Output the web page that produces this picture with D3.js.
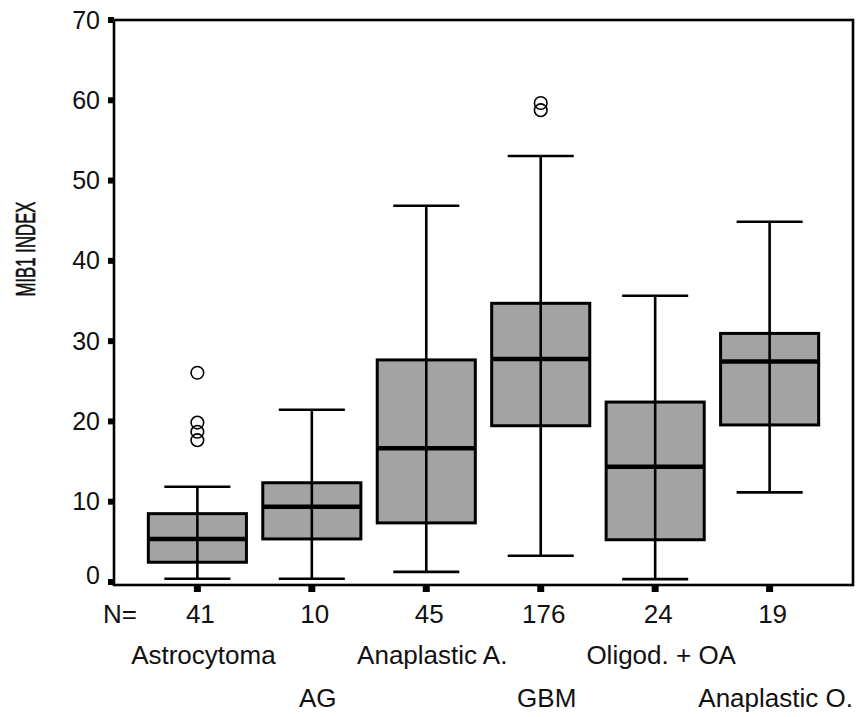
<!DOCTYPE html>
<html>
<head>
<meta charset="utf-8">
<script src="https://cdn.jsdelivr.net/npm/d3@7/dist/d3.min.js"></script>
<style>
  html, body { margin: 0; padding: 0; background: #fff; }
  svg { display: block; font-family: "Liberation Sans", Arial, Helvetica, sans-serif; }
</style>
</head>
<body>
<svg id="chart" width="859" height="717"></svg>
<script>
// Tumour groups, their sample counts and MIB1 index box-plot summaries
const categories = ["Astrocytoma", "AG", "Anaplastic A.", "GBM", "Oligod. + OA", "Anaplastic O."];
const counts     = [41, 10, 45, 176, 24, 19];
const whiskerLow = [0.35, 0.35, 1.2, 3.2, 0.3, 11.1];
const q1         = [2.4, 5.3, 7.3, 19.4, 5.2, 19.5];
const medians    = [5.3, 9.3, 16.6, 27.7, 14.3, 27.4];
const q3         = [8.45, 12.3, 27.6, 34.65, 22.35, 30.9];
const whiskerHigh= [11.8, 21.4, 46.8, 53.0, 35.6, 44.8];
const outliers   = [[26.0, 19.8, 18.65, 17.6], [], [], [59.6, 58.7], [], []];
const yTicks     = [0, 10, 20, 30, 40, 50, 60, 70];

const svg = d3.select("#chart");
const plotLeft = 114, plotRight = 853, plotTop = 20, plotBottom = 585;

const x = d3.scaleBand()
  .domain(categories)
  .range([plotLeft, plotRight])
  .paddingInner(0.143)
  .paddingOuter(0.3);

const y = d3.scaleLinear().domain([0, 70]).range([581.5, 19.5]);

const cx = c => x(c) + x.bandwidth() / 2;
const capW = x.step() * 0.577;

// Plot frame
svg.append("rect")
  .attr("x", plotLeft).attr("y", plotTop)
  .attr("width", plotRight - plotLeft).attr("height", plotBottom - plotTop)
  .attr("fill", "none").attr("stroke", "#000").attr("stroke-width", 2.6);

// Y axis: square tick marks and labels
const yAxis = svg.append("g")
  .attr("transform", `translate(${plotLeft},0)`)
  .call(d3.axisLeft(y).tickValues(yTicks).tickSize(6).tickPadding(8));
yAxis.select(".domain").remove();
yAxis.selectAll(".tick line").attr("stroke", "#000").attr("stroke-width", 6);
yAxis.selectAll(".tick text")
  .attr("font-size", 25)
  .attr("font-family", "Liberation Sans, Arial, sans-serif")
  .attr("fill", "#111")
  .attr("dy", d => d === 0 ? "0.06em" : "0.34em");

// X axis: square tick marks under each group
const xAxis = svg.append("g")
  .attr("transform", `translate(0,${plotBottom})`)
  .call(d3.axisBottom(x).tickSize(7).tickFormat(""));
xAxis.select(".domain").remove();
xAxis.selectAll(".tick line").attr("stroke", "#000").attr("stroke-width", 7);

// Box plots
const data = categories.map((c, i) => ({
  c, lo: whiskerLow[i], q1: q1[i], med: medians[i], q3: q3[i], hi: whiskerHigh[i], out: outliers[i]
}));

const g = svg.append("g");
const box = g.selectAll("g.box").data(data).join("g").attr("class", "box");

// whisker stems
box.append("line")
  .attr("x1", d => cx(d.c)).attr("x2", d => cx(d.c))
  .attr("y1", d => y(d.lo)).attr("y2", d => y(d.hi))
  .attr("stroke", "#000").attr("stroke-width", 2.6);

// boxes
box.append("rect")
  .attr("x", d => x(d.c)).attr("width", x.bandwidth())
  .attr("y", d => y(d.q3)).attr("height", d => y(d.q1) - y(d.q3))
  .attr("fill", "#a3a3a3").attr("stroke", "#000").attr("stroke-width", 3);

// stem through the box
box.append("line")
  .attr("x1", d => cx(d.c)).attr("x2", d => cx(d.c))
  .attr("y1", d => y(d.q3)).attr("y2", d => y(d.q1))
  .attr("stroke", "#000").attr("stroke-width", 2.6);

// medians
box.append("line")
  .attr("x1", d => x(d.c)).attr("x2", d => x(d.c) + x.bandwidth())
  .attr("y1", d => y(d.med)).attr("y2", d => y(d.med))
  .attr("stroke", "#000").attr("stroke-width", 4.5);

// whisker caps
["lo", "hi"].forEach(k => {
  box.append("line")
    .attr("x1", d => cx(d.c) - capW / 2).attr("x2", d => cx(d.c) + capW / 2)
    .attr("y1", d => y(d[k])).attr("y2", d => y(d[k]))
    .attr("stroke", "#000").attr("stroke-width", 2.6);
});

// outliers
box.selectAll("circle").data(d => d.out.map(v => ({ c: d.c, v })))
  .join("circle")
  .attr("cx", d => cx(d.c)).attr("cy", d => y(d.v)).attr("r", 6.3)
  .attr("fill", "none").attr("stroke", "#000").attr("stroke-width", 1.6);

// N= row
const labelFont = "Liberation Sans, Arial, sans-serif";
svg.append("text")
  .attr("x", 103).attr("y", 623)
  .attr("font-size", 26).attr("font-family", labelFont).attr("fill", "#111")
  .text("N=");
svg.selectAll("text.n").data(categories).join("text")
  .attr("class", "n")
  .attr("x", c => cx(c) + 3).attr("y", 623)
  .attr("text-anchor", "middle")
  .attr("font-size", 26).attr("font-family", labelFont).attr("fill", "#111")
  .text((c, i) => counts[i]);

// Group names, staggered over two rows
svg.selectAll("text.cat").data(categories).join("text")
  .attr("class", "cat")
  .attr("x", c => cx(c) + 6)
  .attr("y", (c, i) => i % 2 === 0 ? 664 : 707)
  .attr("text-anchor", "middle")
  .attr("font-size", 26).attr("font-family", labelFont).attr("fill", "#111")
  .text(c => c);

// Y axis title (condensed along its length)
svg.append("text")
  .attr("transform", "translate(35,249) rotate(-90)")
  .attr("text-anchor", "middle")
  .attr("font-size", 28).attr("font-family", labelFont).attr("fill", "#111")
  .attr("stroke", "#111").attr("stroke-width", 0.6)
  .attr("textLength", 95).attr("lengthAdjust", "spacingAndGlyphs")
  .text("MIB1 INDEX");
</script>
</body>
</html>
